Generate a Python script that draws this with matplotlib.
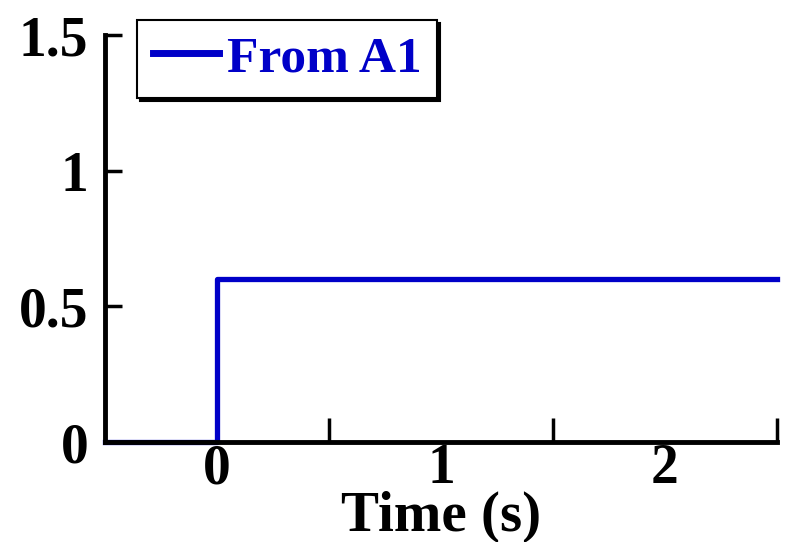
import numpy as np
import matplotlib
matplotlib.use("Agg")
import matplotlib.pyplot as plt

# step input data
time = [-0.5, 0.0, 2.5]
value = [0.0, 0.6, 0.6]
series_name = "From A1"

xticks_major = [0, 1, 2]
xticks_minor = [0.5, 1.5, 2.5]
yticks = [0, 0.5, 1, 1.5]
ytick_labels = ["0", "0.5", "1", "1.5"]

plt.rcParams['font.family'] = ['Liberation Serif', 'DejaVu Serif']
plt.rcParams['font.weight'] = 'bold'

blue = '#0000c8'

fig = plt.figure(figsize=(7.91, 5.42), dpi=100)
ax = fig.add_axes([0.1327, 0.1845, 0.8495, 0.7509])

ax.step(time, value, where='post', color=blue, linewidth=3.8, label=series_name, clip_on=False, zorder=2)

ax.set_xlim(-0.5, 2.5)
ax.set_ylim(0, 1.5)

for s in ['top', 'right']:
  ax.spines[s].set_visible(False)
for s in ['left', 'bottom']:
  ax.spines[s].set_linewidth(3.5)
  ax.spines[s].set_zorder(3)

ax.set_xticks(xticks_major)
ax.set_xticklabels([str(x) for x in xticks_major], fontsize=40, fontweight='bold')
ax.set_xticks(xticks_minor, minor=True)
ax.tick_params(axis='x', which='major', length=0, pad=1)
ax.tick_params(axis='x', which='minor', direction='in', length=17, width=2.5)

ax.set_yticks(yticks)
ax.set_yticklabels(ytick_labels, fontsize=40, fontweight='bold')
ax.tick_params(axis='y', which='major', direction='in', length=12, width=2.5, pad=12)

ax.set_xlabel("Time (s)", fontsize=41, fontweight='bold', labelpad=-3)

leg = ax.legend(loc='upper left', bbox_to_anchor=(0.048, 1.037), borderaxespad=0.,
  fontsize=37, handlelength=1.3, handletextpad=0.15, borderpad=0.3,
  fancybox=False, shadow={'color': 'black', 'alpha': 1.0}, framealpha=1.0)
leg.get_frame().set_edgecolor('black')
leg.get_frame().set_linewidth(1.5)
for t in leg.get_texts():
  t.set_color(blue)
for l in leg.get_lines():
  l.set_linewidth(5)

plt.savefig("out.png", dpi=100)
